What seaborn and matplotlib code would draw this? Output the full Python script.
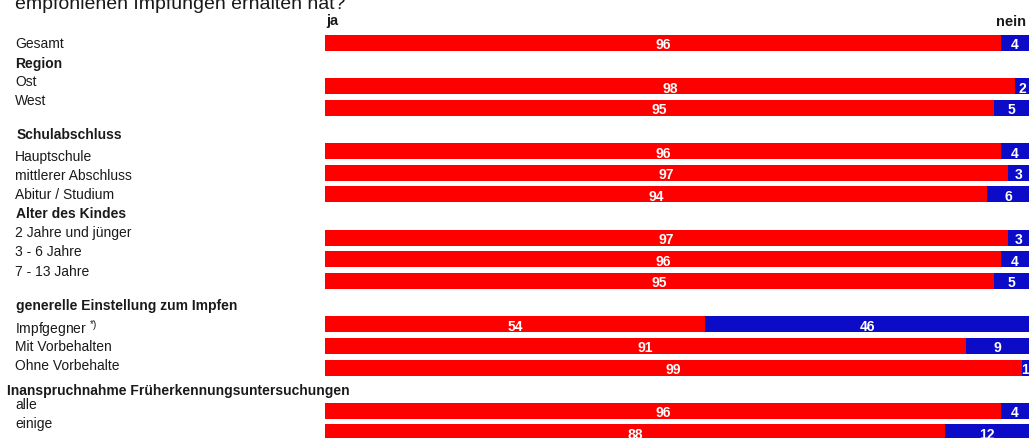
import matplotlib
matplotlib.use("Agg")
import matplotlib.pyplot as plt
import pandas as pd
import seaborn as sns

# Data
group_headers = [None, "Region", "Schulabschluss", "Alter des Kindes",
                 "generelle Einstellung zum Impfen",
                 "Inanspruchnahme Früherkennungsuntersuchungen"]
group_sizes = [1, 2, 3, 3, 3, 2]
rows = ["Gesamt", "Ost", "West",
        "Hauptschule", "mittlerer Abschluss", "Abitur / Studium",
        "2 Jahre und jünger", "3 - 6 Jahre", "7 - 13 Jahre",
        r"Impfgegner $^{\mathregular{*)}}$", "Mit Vorbehalten", "Ohne Vorbehalte",
        "alle", "einige"]
ja = [96, 98, 95, 96, 97, 94, 97, 96, 95, 54, 91, 99, 96, 88]
nein = [4, 2, 5, 4, 3, 6, 3, 4, 5, 46, 9, 1, 4, 12]

RED = "#FF0000"
BLUE = "#0C0CC8"
W, H = 1031, 439

sns.set_theme(style="white")
plt.rcParams["font.family"] = ["Liberation Sans", "DejaVu Sans"]

# bar slots: one empty slot where each group header goes
slots = []
s = 0
for gi, n in enumerate(group_sizes):
    if gi > 0:
        s += 1
    for _ in range(n):
        slots.append(s)
        s += 1

df = pd.DataFrame({"row": rows, "slot": slots, "ja": ja, "nein": nein})
df["total"] = df["ja"] + df["nein"]

fig = plt.figure(figsize=(W / 100, H / 100), dpi=100)
ax = fig.add_axes([325 / W, 0, 704 / W, 1])

sns.barplot(data=df, x="total", y="slot", orient="y", native_scale=True,
            color=BLUE, saturation=1, width=0.74, errorbar=None,
            linewidth=0, ax=ax)
sns.barplot(data=df, x="ja", y="slot", orient="y", native_scale=True,
            color=RED, saturation=1, width=0.74, errorbar=None,
            linewidth=0, ax=ax)

for _, r in df.iterrows():
    ax.text(r["ja"] / 2, r["slot"], str(r["ja"]), ha="center", va="center_baseline",
            color="white", fontweight="bold", fontsize=10)
    ax.text(r["ja"] + r["nein"] / 2, r["slot"], str(r["nein"]), ha="center",
            va="center_baseline", color="white", fontweight="bold", fontsize=10)

# map slots to pixel rows: first bar centre at 43.8 px, 21.65 px per slot
top = -43.8 / 21.65
bottom = (H - 43.8) / 21.65
ax.set_xlim(0, 100)
ax.set_ylim(bottom, top)
ax.axis("off")

# row labels and headers (text layout in pixels)
def ftext(x, y, t, size=10, **kw):
    fig.text(x / W, 1 - y / H, t, va="center_baseline", fontsize=size,
             color="#1a1a1a", **kw)

label_y = [43, 80, 99.3, 156, 175, 194, 231.7, 251, 270, 326, 346, 365, 404, 422.5]
header_y = [None, 62.7, 133.3, 212.5, 304.3, 389.3]
header_x = [None, 15.5, 16.5, 15.5, 15.5, 7]
for lab, y in zip(rows, label_y):
    ftext(15, y, lab)
for hdr, x, y in zip(group_headers, header_x, header_y):
    if hdr:
        ftext(x, y, hdr, fontweight="bold")

ftext(326, 20, "ja", size=10.5, fontweight="bold")
ftext(1026, 20, "nein", size=10.5, fontweight="bold", ha="right")

# question title, cut off at the top of the crop
fig.text(15 / W, 1 - 9 / H, "empfohlenen Impfungen erhalten hat?", fontsize=14,
         va="baseline", color="#1a1a1a")

fig.savefig("out.png", dpi=100)
